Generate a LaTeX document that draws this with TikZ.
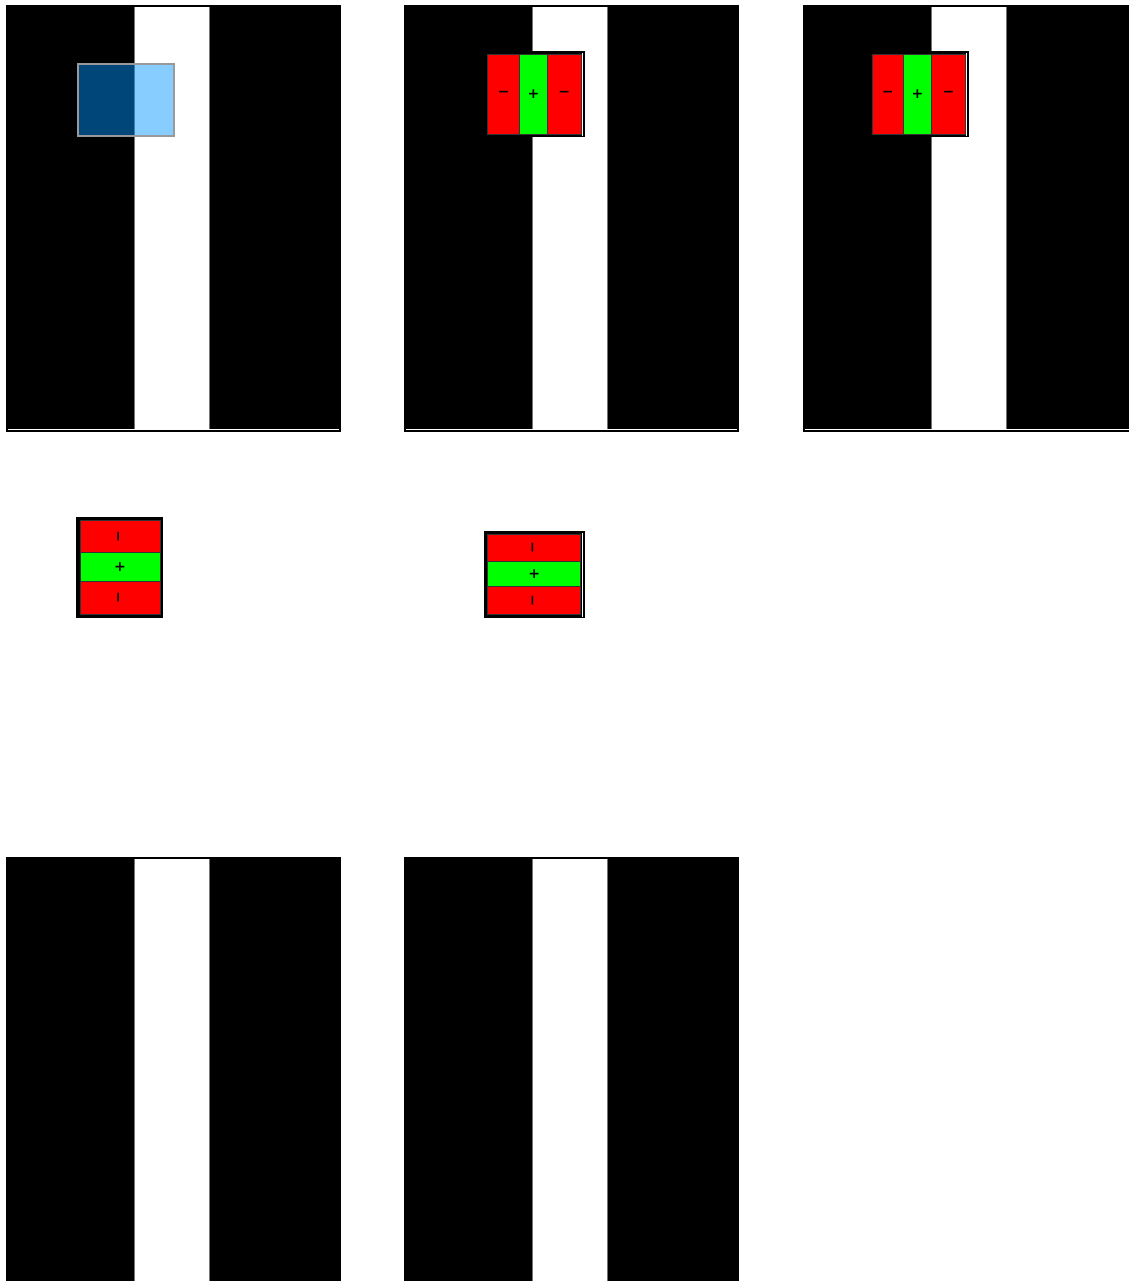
\documentclass[tikz,border=0pt]{standalone}
\usepackage{fontspec}
\newfontfamily\signfont{DejaVu Sans}
\definecolor{stimred}{RGB}{255,0,0}
\definecolor{stimgreen}{RGB}{0,255,0}
\definecolor{fieldblue}{RGB}{0,150,255}
\begin{document}
\begin{tikzpicture}[
  x=0.5pt, y=-0.5pt,
  font=\signfont\fontsize{7}{8}\selectfont\bfseries,
  sign/.style={inner sep=0pt, outer sep=0pt},
  cell/.style={draw=black!80, line width=0.5pt},
  frame/.style={fill=black},
]
\useasboundingbox (0,0) rectangle (1129,1281);
\clip (0,0) rectangle (1129,1281);
% grating panels: x0, y-top, y-bottom
\providecommand{\gratingpanel}[3]{%
  \fill[black] (#1,#2) rectangle (#1+335,#3);
  \fill[white] (#1+128,#2+2) rectangle (#1+203,#3-2);
  \draw[black!55, line width=0.5pt] (#1+128,#2+2) -- (#1+128,#3-2);
  \draw[black!55, line width=0.5pt] (#1+203,#2+2) -- (#1+203,#3-2);
}
\gratingpanel{6}{5}{431.5}
\gratingpanel{404}{5}{431.5}
\gratingpanel{803}{5}{431.5}
\foreach \x in {6,404,803} {
  \fill[white] (\x+2,429) rectangle (\x+333,430);
}
\gratingpanel{6}{857}{1300}
\gratingpanel{404}{857}{1300}
% receptive field
\draw[black!40, line width=1pt, fill=fieldblue, fill opacity=0.47]
  (77.5,63.5) rectangle (174,136);
% flanked fields, side by side: name, x0..x3, y0, y1
\providecommand{\flankH}[7]{%
  \fill[stimred, cell] (#2,#6) rectangle (#3,#7);
  \fill[stimgreen, cell] (#3,#6) rectangle (#4,#7);
  \fill[stimred, cell] (#4,#6) rectangle (#5,#7);
  \node[sign] (#1-l) at ({(#2+#3)/2},{(#6+#7)/2}) {−};
  \node[sign] (#1-c) at ({(#3+#4)/2},{(#6+#7)/2}) {+};
  \node[sign] (#1-r) at ({(#4+#5)/2},{(#6+#7)/2}) {−};
}
% flanked fields, stacked: name, x0, x1, y0..y3
\providecommand{\flankV}[7]{%
  \fill[stimred, cell] (#2,#4) rectangle (#3,#5);
  \fill[stimgreen, cell] (#2,#5) rectangle (#3,#6);
  \fill[stimred, cell] (#2,#6) rectangle (#3,#7);
  \node[sign, rotate=90] (#1-t) at ({(#2+#3)/2},{(#4+#5)/2}) {−};
  \node[sign] (#1-c) at ({(#2+#3)/2},{(#5+#6)/2}) {+};
  \node[sign, rotate=90] (#1-b) at ({(#2+#3)/2},{(#6+#7)/2}) {−};
}
% top row
\fill[frame] (485,51) rectangle (584.5,137);
\fill[white] (582,53) rectangle (583,136);
\flankH{hA}{487.5}{519.5}{547.5}{581}{54}{134}
\fill[frame] (869.5,51) rectangle (968.5,137);
\fill[white] (966.2,53) rectangle (967.2,136);
\flankH{hB}{872}{903.5}{931.5}{965.5}{54}{134}
% middle row
\fill[frame] (76,517) rectangle (163,618);
\flankV{vA}{80}{160}{520}{552.7}{581.3}{614.3}
\fill[frame] (484,531) rectangle (585,618);
\fill[white] (582,533) rectangle (583,617);
\flankV{vB}{487.7}{580.7}{534}{561.3}{586.3}{614.7}
\end{tikzpicture}
\end{document}
